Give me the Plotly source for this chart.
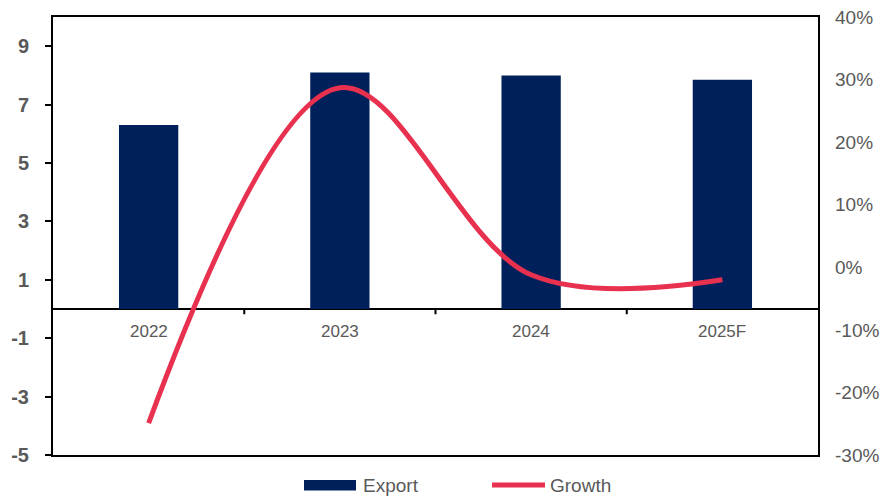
import plotly.graph_objects as go

# Annual export volume with year-on-year growth
years = ["2022", "2023", "2024", "2025F"]
export_values = [6.3, 8.1, 8.0, 7.85]
growth_pct = [-24.9, 28.7, -1.2, -2.0]

left_ticks = [-5, -3, -1, 1, 3, 5, 7, 9]
right_ticks = [-30, -20, -10, 0, 10, 20, 30, 40]

NAVY = "#00205B"
RED = "#E8304F"
GREY = "#595959"
FONT = "Liberation Sans, Arial, sans-serif"

fig = go.Figure()

fig.add_trace(go.Bar(
    x=years, y=export_values, name="Export",
    marker=dict(color=NAVY, line=dict(width=0)),
    width=0.31, showlegend=False, yaxis="y",
))

fig.add_trace(go.Scatter(
    x=years, y=growth_pct, name="Growth", mode="lines",
    line=dict(color=RED, width=5, shape="spline", smoothing=1.0),
    showlegend=False, yaxis="y2",
))

# Category labels and separators sit on the zero line
for i, yr in enumerate(years):
    fig.add_annotation(x=i, y=0, xref="x", yref="y", text=yr, showarrow=False,
                       yshift=-22, font=dict(family=FONT, size=17, color=GREY))
for b in [0.5, 1.5, 2.5]:
    fig.add_shape(type="line", xref="x", yref="y", x0=b, x1=b, y0=0, y1=-0.18,
                  line=dict(color="black", width=2))

# Legend below the plot area
fig.add_shape(type="rect", xref="paper", yref="paper",
              x0=(304 - 53) / 765, x1=(356 - 53) / 765,
              y0=(455 - 490.5) / 438, y1=(455 - 480) / 438,
              fillcolor=NAVY, line=dict(width=0))
fig.add_annotation(xref="paper", yref="paper", x=(361 - 53) / 765, y=(455 - 485) / 438,
                   xanchor="left", yanchor="middle", text="Export", showarrow=False,
                   font=dict(family=FONT, size=19, color=GREY))
fig.add_shape(type="line", xref="paper", yref="paper",
              x0=(492 - 53) / 765, x1=(545 - 53) / 765,
              y0=(455 - 485) / 438, y1=(455 - 485) / 438,
              line=dict(color=RED, width=5))
fig.add_annotation(xref="paper", yref="paper", x=(548 - 53) / 765, y=(455 - 485) / 438,
                   xanchor="left", yanchor="middle", text="Growth", showarrow=False,
                   font=dict(family=FONT, size=19, color=GREY))

fig.update_layout(
    width=886, height=498,
    margin=dict(l=53, r=68, t=17, b=43, autoexpand=False),
    paper_bgcolor="white", plot_bgcolor="white",
    font=dict(family=FONT, color=GREY),
    bargap=0.5,
    xaxis=dict(
        type="category", showticklabels=False, showgrid=False, ticks="",
        showline=True, mirror=True, linecolor="black", linewidth=2,
        range=[-0.5, 3.5], fixedrange=True, automargin=False,
    ),
    yaxis=dict(
        range=[-5, 10], tickvals=left_ticks, ticktext=[str(v) for v in left_ticks],
        showgrid=False, zeroline=True, zerolinecolor="black", zerolinewidth=2,
        showline=True, mirror=True, linecolor="black", linewidth=2,
        ticks="outside", ticklen=6, tickwidth=2, tickcolor="black",
        ticklabelstandoff=12, automargin=False,
        tickfont=dict(family=FONT, size=20, color=GREY, weight="bold"),
    ),
    yaxis2=dict(
        range=[-30, 40], tickvals=right_ticks,
        ticktext=[f"{v}%" for v in right_ticks],
        overlaying="y", side="right", showgrid=False, zeroline=False,
        showline=False, ticks="", ticklabelstandoff=16, automargin=False,
        tickfont=dict(family=FONT, size=19, color=GREY),
    ),
)

fig.write_html("out.html")
